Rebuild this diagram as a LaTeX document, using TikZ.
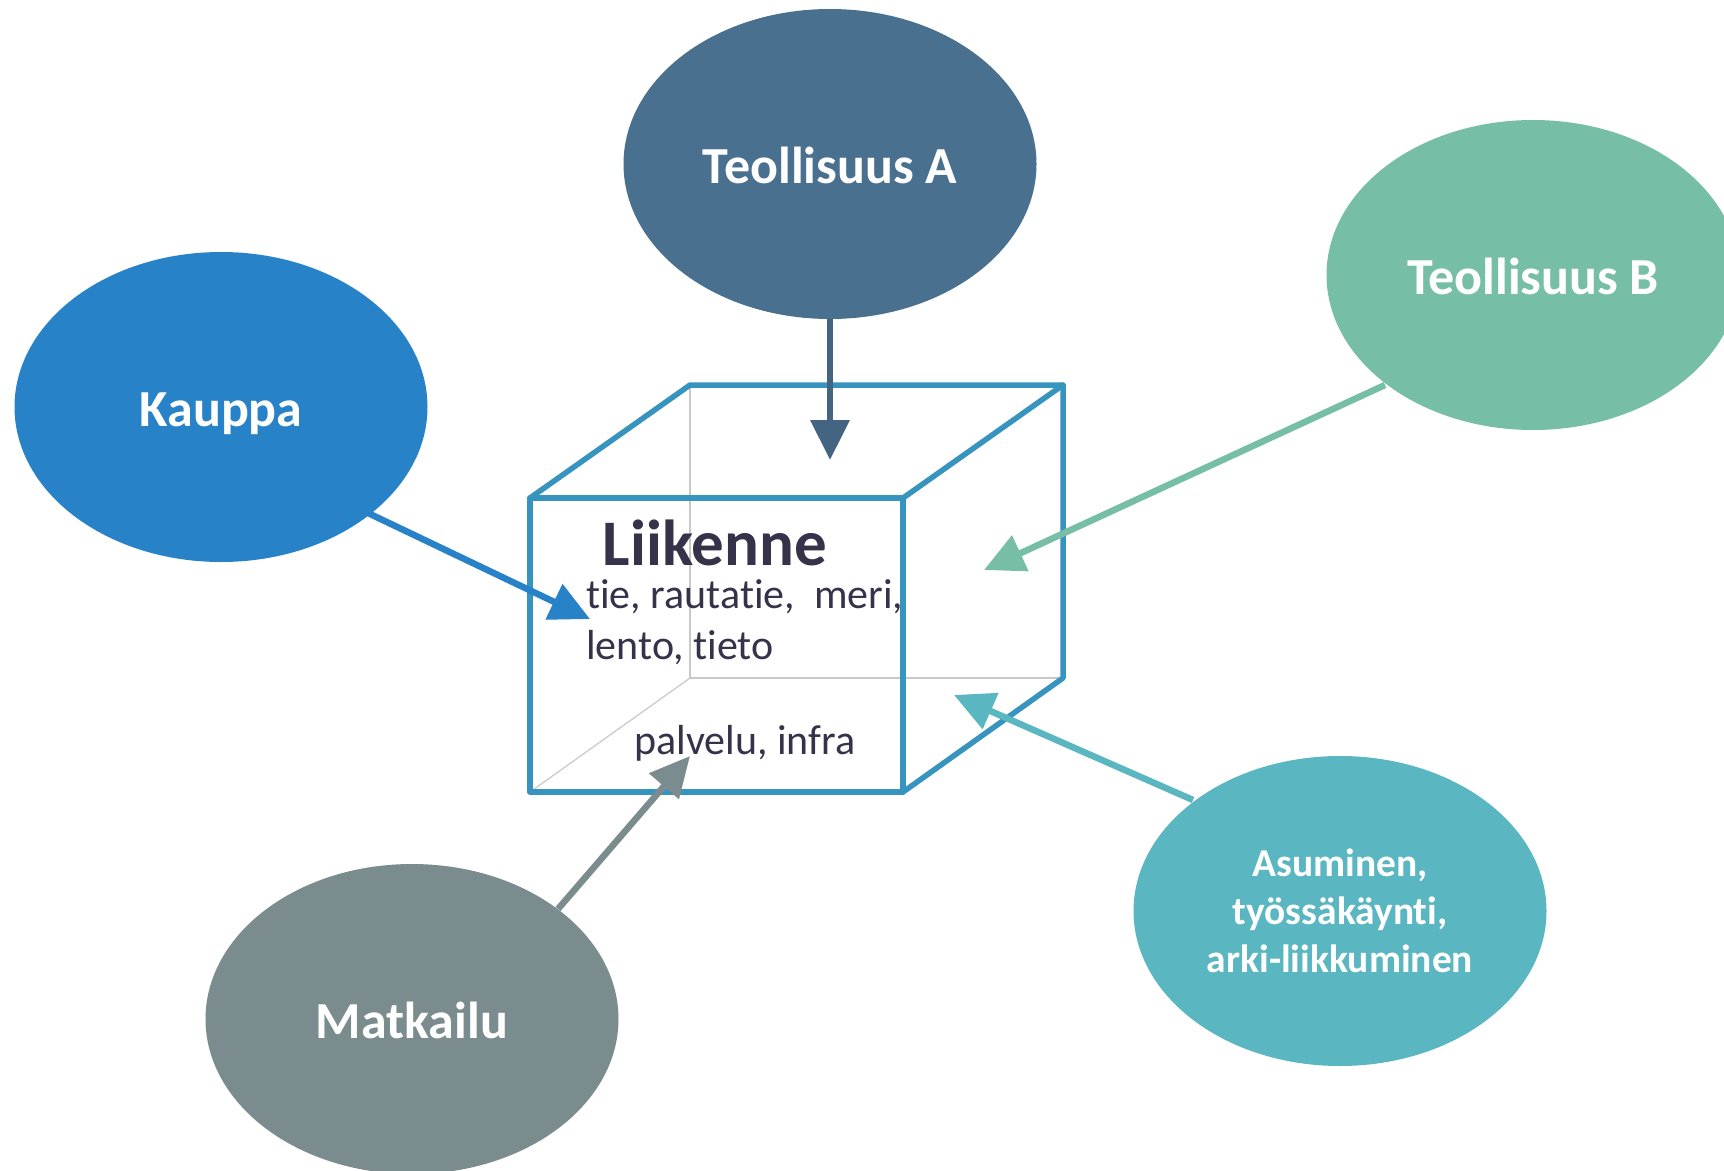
\documentclass[tikz,border=0pt]{standalone}
\usepackage{fontspec}
\setmainfont{Carlito}[Ligatures=NoCommon]
\usetikzlibrary{shapes.geometric,arrows.meta}
\definecolor{cTA}{HTML}{4A7090}
\definecolor{cTB}{HTML}{76BEA6}
\definecolor{cKa}{HTML}{2882C8}
\definecolor{cMa}{HTML}{7A8C8D}
\definecolor{cAs}{HTML}{5AB6C0}
\definecolor{cCube}{HTML}{3794BE}
\definecolor{cHid}{HTML}{C8C8C8}
\definecolor{cTxt}{HTML}{35324A}
\tikzset{
  blob/.style={ellipse, inner sep=0pt, minimum width=413pt, minimum height=310pt, text=white, font=\bfseries\fontsize{52}{60}\selectfont, align=center},
  oneline/.style={text height=38pt, text depth=0pt},
  edgeline/.style={cCube, line width=5.5pt, line cap=round, line join=round},
  hidline/.style={cHid, line width=1.2pt},
  flow/.style={line width=6.5pt, -{Triangle[length=40pt,width=38pt]}},
  boxtxt/.style={text=cTxt, inner sep=0pt}
}
\begin{document}
\begin{tikzpicture}[x=1pt,y=-1pt]
\useasboundingbox (0,0) rectangle (1724,1170);
\clip (0,0) rectangle (1724,1170);
% cube corners
\coordinate (A) at (530,498);
\coordinate (B) at (903,498);
\coordinate (C) at (903,792);
\coordinate (D) at (530,792);
\coordinate (E) at (690,385);
\coordinate (F) at (1063,385);
\coordinate (G) at (1063,678);
\coordinate (H) at (690,678);
% hidden edges
\draw[hidline] (E) -- (H) -- (G);
\draw[hidline] (H) -- (D);
% visible edges
\draw[edgeline] (A) -- (B) -- (C) -- (D) -- cycle;
\draw[edgeline] (A) -- (E) -- (F) -- (B);
\draw[edgeline] (F) -- (G) -- (C);
% texts
\node[boxtxt, font=\bfseries\fontsize{65}{70}\selectfont] (lk) at (715,543) {Liikenne};
\node[boxtxt, anchor=west, font=\fontsize{42}{50}\selectfont] (l1) at (586,597) {tie, rautatie,\ \ meri,};
\node[boxtxt, anchor=west, font=\fontsize{42}{50}\selectfont] (l2) at (586,648) {lento, tieto};
\node[boxtxt, font=\fontsize{42}{50}\selectfont] (l3) at (745,743) {palvelu, infra};
% ellipses
\node[blob, oneline, fill=cTA] (ta) at (830,164) {Teollisuus A};
\node[blob, oneline, fill=cTB] (tb) at (1533,275) {Teollisuus B};
\node[blob, oneline, fill=cKa] (ka) at (221,407) {Kauppa};
\node[blob, oneline, fill=cMa] (ma) at (412,1019) {Matkailu};
\node[blob, fill=cAs, font=\bfseries\fontsize{39.5}{48}\selectfont] (as) at (1340,911) {Asuminen,\\työssäkäynti,\\arki-liikkuminen};
% arrow endpoints
\coordinate (taT) at (830,460);
\coordinate (kaS) at (368,513);
\coordinate (kaT) at (590,619);
\coordinate (tbS) at (1385,385);
\coordinate (tbT) at (984,570);
\coordinate (asS) at (1193,800);
\coordinate (asT) at (954,695);
\coordinate (maS) at (558,909);
\coordinate (maT) at (690,756);
% arrows
\draw[flow, draw=cTA!90!black, fill=cTA!90!black] (ta.south) -- (taT);
\draw[flow, draw=cKa, fill=cKa] (kaS) -- (kaT);
\draw[flow, draw=cTB, fill=cTB] (tbS) -- (tbT);
\draw[flow, draw=cAs, fill=cAs] (asS) -- (asT);
\draw[flow, draw=cMa, fill=cMa] (maS) -- (maT);
\end{tikzpicture}
\end{document}
